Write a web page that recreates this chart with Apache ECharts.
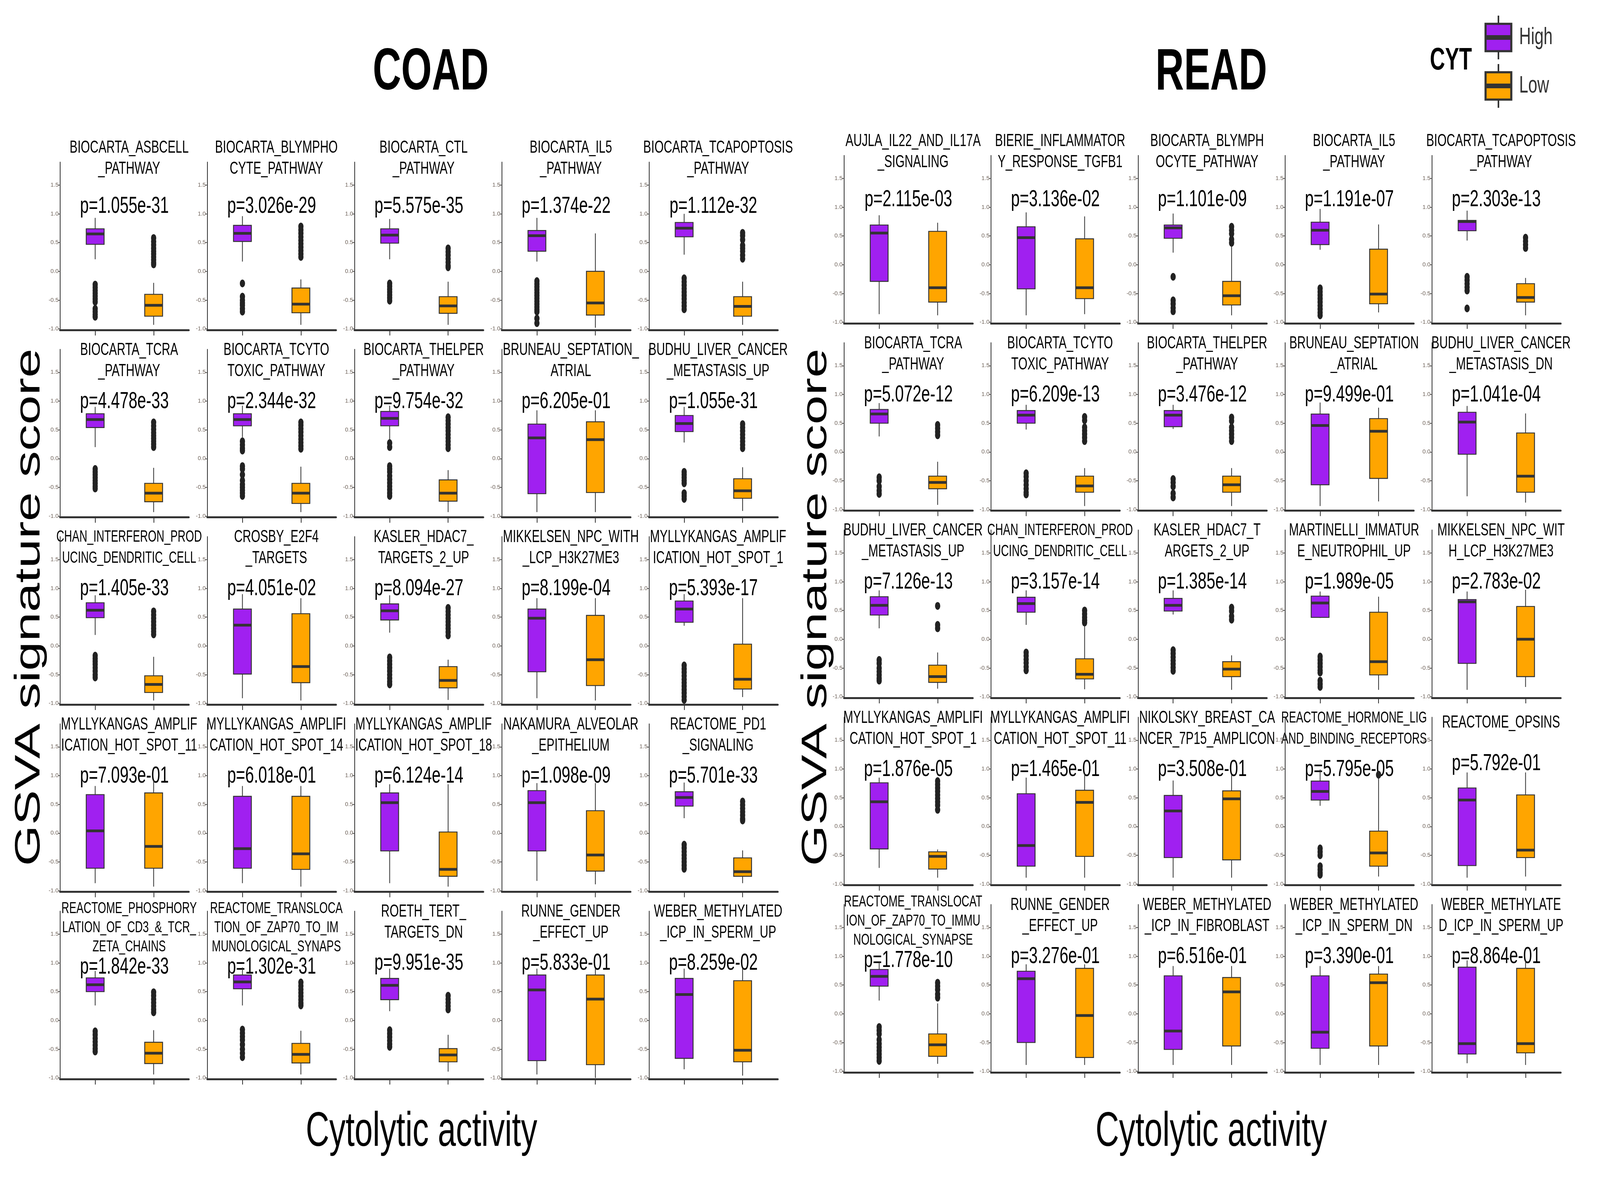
<!DOCTYPE html>
<html>
<head>
<meta charset="utf-8">
<script src="https://cdn.jsdelivr.net/npm/echarts@6/dist/echarts.min.js"></script>
<style>
html, body { margin: 0; padding: 0; background: #fff; overflow: hidden; }
#main { width: 100vw; height: 100vh; }
</style>
</head>
<body>
<div id="main"></div>
<script>
// groups on the x axis and the y ticks
var groups = ['High', 'Low'];
var yTicks = [-1, -0.5, 0, 0.5, 1, 1.5];

// ---- COAD ----
var coadNames = [
  'BIOCARTA_ASBCELL\n_PATHWAY', 'BIOCARTA_BLYMPHO\nCYTE_PATHWAY', 'BIOCARTA_CTL\n_PATHWAY', 'BIOCARTA_IL5\n_PATHWAY', 'BIOCARTA_TCAPOPTOSIS\n_PATHWAY',
  'BIOCARTA_TCRA\n_PATHWAY', 'BIOCARTA_TCYTO\nTOXIC_PATHWAY', 'BIOCARTA_THELPER\n_PATHWAY', 'BRUNEAU_SEPTATION_\nATRIAL', 'BUDHU_LIVER_CANCER\n_METASTASIS_UP',
  'CHAN_INTERFERON_PROD\nUCING_DENDRITIC_CELL', 'CROSBY_E2F4\n_TARGETS', 'KASLER_HDAC7_\nTARGETS_2_UP', 'MIKKELSEN_NPC_WITH\n_LCP_H3K27ME3', 'MYLLYKANGAS_AMPLIF\nICATION_HOT_SPOT_1',
  'MYLLYKANGAS_AMPLIF\nICATION_HOT_SPOT_11', 'MYLLYKANGAS_AMPLIFI\nCATION_HOT_SPOT_14', 'MYLLYKANGAS_AMPLIF\nICATION_HOT_SPOT_18', 'NAKAMURA_ALVEOLAR\n_EPITHELIUM', 'REACTOME_PD1\n_SIGNALING',
  'REACTOME_PHOSPHORY\nLATION_OF_CD3_&_TCR_\nZETA_CHAINS', 'REACTOME_TRANSLOCA\nTION_OF_ZAP70_TO_IM\nMUNOLOGICAL_SYNAPS', 'ROETH_TERT_\nTARGETS_DN', 'RUNNE_GENDER\n_EFFECT_UP', 'WEBER_METHYLATED\n_ICP_IN_SPERM_UP'
];
var coadP = [
  '1.055e-31', '3.026e-29', '5.575e-35', '1.374e-22', '1.112e-32',
  '4.478e-33', '2.344e-32', '9.754e-32', '6.205e-01', '1.055e-31',
  '1.405e-33', '4.051e-02', '8.094e-27', '8.199e-04', '5.393e-17',
  '7.093e-01', '6.018e-01', '6.124e-14', '1.098e-09', '5.701e-33',
  '1.842e-33', '1.302e-31', '9.951e-35', '5.833e-01', '8.259e-02'
];
// [lower whisker, Q1, median, Q3, upper whisker]
var coadHigh = [
  [0.21, 0.47, 0.65, 0.74, 0.93], [0.17, 0.52, 0.66, 0.80, 0.96], [0.21, 0.49, 0.63, 0.74, 0.91], [0.17, 0.35, 0.62, 0.71, 0.93], [0.29, 0.60, 0.75, 0.85, 1.00],
  [0.20, 0.54, 0.68, 0.78, 0.90], [0.37, 0.57, 0.68, 0.78, 0.92], [0.32, 0.57, 0.70, 0.82, 0.92], [-0.93, -0.61, 0.36, 0.60, 0.84], [0.28, 0.47, 0.61, 0.75, 0.90],
  [0.19, 0.49, 0.62, 0.75, 0.88], [-0.91, -0.49, 0.36, 0.64, 0.90], [0.23, 0.45, 0.61, 0.73, 0.88], [-0.91, -0.45, 0.48, 0.64, 0.83], [0.35, 0.41, 0.64, 0.78, 0.90],
  [-0.87, -0.61, 0.04, 0.67, 0.82], [-0.87, -0.61, -0.27, 0.64, 0.82], [-0.87, -0.31, 0.53, 0.70, 0.85], [-0.83, -0.31, 0.53, 0.74, 0.87], [0.26, 0.47, 0.62, 0.72, 0.88],
  [0.26, 0.50, 0.62, 0.74, 0.86], [0.26, 0.55, 0.67, 0.79, 0.92], [0.16, 0.36, 0.61, 0.73, 0.90], [-0.94, -0.70, 0.53, 0.79, 0.90], [-0.85, -0.66, 0.45, 0.73, 0.90]
];
var coadLow = [
  [-0.93, -0.78, -0.59, -0.40, -0.20], [-0.93, -0.72, -0.57, -0.29, -0.14], [-0.93, -0.73, -0.60, -0.44, -0.18], [-0.98, -0.76, -0.55, 0.00, 0.66], [-0.93, -0.78, -0.61, -0.44, -0.18],
  [-0.93, -0.75, -0.60, -0.43, -0.16], [-0.93, -0.78, -0.60, -0.43, -0.14], [-0.93, -0.74, -0.60, -0.37, -0.20], [-0.93, -0.59, 0.33, 0.64, 0.84], [-0.91, -0.69, -0.56, -0.35, -0.15],
  [-0.95, -0.81, -0.67, -0.52, -0.19], [-0.95, -0.64, -0.36, 0.56, 0.83], [-0.94, -0.73, -0.60, -0.36, -0.24], [-0.95, -0.69, -0.24, 0.53, 0.83], [-0.89, -0.75, -0.58, 0.03, 0.83],
  [-0.93, -0.61, -0.23, 0.70, 0.92], [-0.93, -0.63, -0.36, 0.64, 0.82], [-0.93, -0.75, -0.63, 0.02, 0.85], [-0.89, -0.66, -0.38, 0.39, 0.87], [-0.87, -0.75, -0.67, -0.43, -0.30],
  [-0.94, -0.75, -0.57, -0.38, -0.17], [-0.94, -0.74, -0.59, -0.40, -0.18], [-0.89, -0.72, -0.60, -0.49, -0.25], [-1.00, -0.77, 0.37, 0.79, 0.90], [-0.96, -0.72, -0.52, 0.69, 0.90]
];
var coadHighOut = [
  [-0.23, -0.28, -0.33, -0.38, -0.43, -0.48, -0.53, -0.65, -0.70, -0.75, -0.79],
  [-0.21, -0.44, -0.50, -0.55, -0.59, -0.65, -0.70],
  [-0.21, -0.26, -0.31, -0.36, -0.41, -0.46, -0.51],
  [-0.17, -0.22, -0.27, -0.32, -0.37, -0.42, -0.47, -0.52, -0.57, -0.62, -0.67, -0.70, -0.82, -0.90],
  [-0.12, -0.18, -0.24, -0.30, -0.36, -0.42, -0.48, -0.54, -0.60, -0.66],
  [-0.18, -0.23, -0.28, -0.33, -0.38, -0.43, -0.48, -0.52],
  [0.30, 0.24, 0.18, 0.14, -0.13, -0.18, -0.28, -0.38, -0.45, -0.50, -0.55, -0.60, -0.65],
  [0.27, 0.20, -0.13, -0.18, -0.23, -0.30, -0.36, -0.42, -0.48, -0.54, -0.60, -0.65],
  [],
  [-0.23, -0.28, -0.33, -0.38, -0.43, -0.60, -0.65, -0.70],
  [-0.17, -0.22, -0.27, -0.32, -0.38, -0.44, -0.50, -0.55],
  [],
  [-0.20, -0.26, -0.32, -0.38, -0.44, -0.50, -0.56, -0.62, -0.67],
  [],
  [-0.34, -0.40, -0.46, -0.52, -0.58, -0.64, -0.70, -0.76, -0.82, -0.88, -0.94],
  [], [], [], [],
  [-0.20, -0.26, -0.32, -0.38, -0.44, -0.50, -0.56, -0.62],
  [-0.19, -0.25, -0.31, -0.37, -0.43, -0.49, -0.54],
  [-0.16, -0.22, -0.28, -0.34, -0.42, -0.50, -0.57, -0.64],
  [-0.17, -0.23, -0.29, -0.35, -0.41, -0.46],
  [], []
];
var coadLowOut = [
  [0.58, 0.52, 0.46, 0.40, 0.35, 0.30, 0.25, 0.20, 0.15, 0.12],
  [0.78, 0.72, 0.66, 0.60, 0.54, 0.48, 0.42, 0.36, 0.30, 0.25],
  [0.40, 0.34, 0.28, 0.22, 0.16, 0.10, 0.07],
  [],
  [0.67, 0.62, 0.55, 0.45, 0.40, 0.35, 0.28, 0.22],
  [0.63, 0.57, 0.51, 0.45, 0.40, 0.35, 0.30, 0.25, 0.20],
  [0.63, 0.58, 0.52, 0.46, 0.40, 0.34, 0.28, 0.22, 0.17],
  [0.72, 0.66, 0.60, 0.54, 0.48, 0.42, 0.36, 0.30, 0.24, 0.18],
  [],
  [0.60, 0.54, 0.48, 0.42, 0.36, 0.30, 0.24, 0.18],
  [0.60, 0.54, 0.48, 0.42, 0.36, 0.30, 0.25, 0.20],
  [],
  [0.66, 0.60, 0.54, 0.48, 0.42, 0.36, 0.30, 0.24, 0.18],
  [], [], [], [], [], [],
  [0.55, 0.49, 0.43, 0.37, 0.31, 0.25, 0.22],
  [0.49, 0.43, 0.37, 0.31, 0.25, 0.19, 0.14],
  [0.66, 0.60, 0.54, 0.48, 0.42, 0.36, 0.30, 0.26],
  [0.43, 0.37, 0.31, 0.25, 0.19],
  [], []
];

// ---- READ ----
var readNames = [
  'AUJLA_IL22_AND_IL17A\n_SIGNALING', 'BIERIE_INFLAMMATOR\nY_RESPONSE_TGFB1', 'BIOCARTA_BLYMPH\nOCYTE_PATHWAY', 'BIOCARTA_IL5\n_PATHWAY', 'BIOCARTA_TCAPOPTOSIS\n_PATHWAY',
  'BIOCARTA_TCRA\n_PATHWAY', 'BIOCARTA_TCYTO\nTOXIC_PATHWAY', 'BIOCARTA_THELPER\n_PATHWAY', 'BRUNEAU_SEPTATION\n_ATRIAL', 'BUDHU_LIVER_CANCER\n_METASTASIS_DN',
  'BUDHU_LIVER_CANCER\n_METASTASIS_UP', 'CHAN_INTERFERON_PROD\nUCING_DENDRITIC_CELL', 'KASLER_HDAC7_T\nARGETS_2_UP', 'MARTINELLI_IMMATUR\nE_NEUTROPHIL_UP', 'MIKKELSEN_NPC_WIT\nH_LCP_H3K27ME3',
  'MYLLYKANGAS_AMPLIFI\nCATION_HOT_SPOT_1', 'MYLLYKANGAS_AMPLIFI\nCATION_HOT_SPOT_11', 'NIKOLSKY_BREAST_CA\nNCER_7P15_AMPLICON', 'REACTOME_HORMONE_LIG\nAND_BINDING_RECEPTORS', 'REACTOME_OPSINS',
  'REACTOME_TRANSLOCAT\nION_OF_ZAP70_TO_IMMU\nNOLOGICAL_SYNAPSE', 'RUNNE_GENDER\n_EFFECT_UP', 'WEBER_METHYLATED\n_ICP_IN_FIBROBLAST', 'WEBER_METHYLATED\n_ICP_IN_SPERM_DN', 'WEBER_METHYLATE\nD_ICP_IN_SPERM_UP'
];
var readP = [
  '2.115e-03', '3.136e-02', '1.101e-09', '1.191e-07', '2.303e-13',
  '5.072e-12', '6.209e-13', '3.476e-12', '9.499e-01', '1.041e-04',
  '7.126e-13', '3.157e-14', '1.385e-14', '1.989e-05', '2.783e-02',
  '1.876e-05', '1.465e-01', '3.508e-01', '5.795e-05', '5.792e-01',
  '1.778e-10', '3.276e-01', '6.516e-01', '3.390e-01', '8.864e-01'
];
var readHigh = [
  [-0.86, -0.29, 0.55, 0.69, 0.86], [-0.88, -0.42, 0.47, 0.66, 0.91], [0.21, 0.46, 0.64, 0.69, 0.89], [0.26, 0.35, 0.60, 0.74, 0.97], [0.42, 0.59, 0.75, 0.77, 0.94],
  [0.27, 0.50, 0.66, 0.74, 0.85], [0.39, 0.50, 0.64, 0.72, 0.82], [0.40, 0.44, 0.64, 0.72, 0.82], [-0.94, -0.57, 0.46, 0.66, 0.86], [-0.77, -0.04, 0.52, 0.69, 0.80],
  [0.19, 0.42, 0.59, 0.74, 0.85], [0.25, 0.47, 0.62, 0.73, 0.85], [0.43, 0.49, 0.59, 0.71, 0.85], [0.37, 0.38, 0.63, 0.75, 0.83], [-0.88, -0.42, 0.65, 0.69, 0.83],
  [-0.72, -0.39, 0.43, 0.76, 0.85], [-0.89, -0.69, -0.33, 0.57, 0.85], [-0.89, -0.54, 0.27, 0.54, 0.80], [0.36, 0.46, 0.61, 0.79, 0.99], [-0.89, -0.68, 0.46, 0.67, 0.94],
  [0.23, 0.48, 0.65, 0.77, 0.90], [-0.89, -0.50, 0.61, 0.74, 0.86], [-0.89, -0.62, -0.30, 0.66, 0.83], [-0.89, -0.60, -0.32, 0.66, 0.83], [-0.86, -0.70, -0.52, 0.81, 0.93]
];
var readLow = [
  [-0.88, -0.65, -0.40, 0.58, 0.73], [-0.86, -0.59, -0.40, 0.45, 0.84], [-0.88, -0.70, -0.54, -0.29, 0.34], [-0.83, -0.68, -0.51, 0.27, 0.70], [-0.88, -0.65, -0.57, -0.33, -0.23],
  [-0.92, -0.64, -0.53, -0.42, -0.17], [-0.94, -0.70, -0.59, -0.42, -0.28], [-0.94, -0.70, -0.57, -0.42, -0.28], [-0.86, -0.46, 0.36, 0.58, 0.77], [-0.88, -0.70, -0.42, 0.33, 0.67],
  [-0.86, -0.75, -0.65, -0.45, -0.23], [-0.87, -0.69, -0.61, -0.34, 0.25], [-0.88, -0.65, -0.52, -0.39, -0.28], [-0.88, -0.62, -0.39, 0.47, 0.74], [-0.83, -0.65, 0.00, 0.57, 0.86],
  [-0.89, -0.74, -0.52, -0.44, -0.40], [-0.89, -0.52, 0.42, 0.63, 0.92], [-0.89, -0.58, 0.48, 0.62, 0.90], [-0.87, -0.69, -0.46, -0.08, 0.86], [-0.87, -0.54, -0.41, 0.55, 0.94],
  [-0.87, -0.74, -0.54, -0.35, 0.18], [-0.89, -0.76, -0.03, 0.79, 0.86], [-0.89, -0.56, 0.38, 0.63, 0.83], [-0.89, -0.56, 0.54, 0.69, 0.83], [-0.89, -0.68, -0.52, 0.79, 0.93]
];
var readHighOut = [
  [], [],
  [-0.21, -0.62, -0.68, -0.75, -0.81],
  [-0.41, -0.47, -0.53, -0.59, -0.65, -0.71, -0.77, -0.83, -0.88],
  [-0.21, -0.27, -0.33, -0.39, -0.45, -0.76],
  [-0.44, -0.50, -0.60, -0.67, -0.73],
  [-0.37, -0.43, -0.50, -0.57, -0.64, -0.70, -0.74],
  [-0.47, -0.53, -0.60, -0.72, -0.79],
  [], [],
  [-0.36, -0.42, -0.50, -0.56, -0.62, -0.68, -0.72],
  [-0.23, -0.29, -0.35, -0.41, -0.48, -0.54],
  [-0.19, -0.25, -0.31, -0.37, -0.43, -0.49, -0.55],
  [-0.30, -0.36, -0.42, -0.48, -0.54, -0.58, -0.72, -0.78, -0.83],
  [], [], [], [],
  [-0.38, -0.44, -0.50, -0.69, -0.75, -0.81, -0.84],
  [],
  [-0.23, -0.29, -0.35, -0.45, -0.52, -0.58, -0.64, -0.70, -0.76, -0.82],
  [], [], [], []
];
var readLowOut = [
  [], [],
  [0.66, 0.60, 0.54, 0.44, 0.38],
  [],
  [0.47, 0.41, 0.35, 0.29],
  [0.47, 0.41, 0.35, 0.29],
  [0.61, 0.55, 0.43, 0.37, 0.31, 0.25, 0.19],
  [0.60, 0.54, 0.43, 0.37, 0.31, 0.25, 0.19],
  [], [],
  [0.58, 0.25, 0.19],
  [0.50, 0.44, 0.38, 0.33, 0.29],
  [0.55, 0.49, 0.40, 0.34],
  [], [],
  [0.79, 0.73, 0.67, 0.61, 0.55, 0.49, 0.43, 0.37, 0.29],
  [], [],
  [0.90],
  [],
  [0.54, 0.48, 0.42, 0.34, 0.28],
  [], [], [], []
];

var chart = echarts.init(document.getElementById('main'));
// layout is designed on a 6096 x 3024 canvas and scaled to the actual window
var SX = chart.getWidth() / 6096, SY = chart.getHeight() / 3024, SF = Math.min(SX, SY);
function X(v) { return v * SX; }
function Y(v) { return v * SY; }
function F(v) { return v * SF; }

var colors = ['#A020F0', '#FFA500'];
var FONT = '"Liberation Sans", Arial, sans-serif';
var Y_MIN = -1.02, Y_MAX = 1.9;
var GW = 490, GH = 430, BOX_HALF = 34;

var grids = [], xAxes = [], yAxes = [], series = [], graphics = [];
var measure = document.createElement('canvas').getContext('2d');

function renderBox(params, api) {
  var x = api.value(0);
  var lo = api.coord([x, api.value(1)]);
  var q1 = api.coord([x, api.value(2)]);
  var md = api.coord([x, api.value(3)]);
  var q3 = api.coord([x, api.value(4)]);
  var hi = api.coord([x, api.value(5)]);
  var cx = lo[0], hw = X(BOX_HALF);
  return {
    type: 'group',
    children: [
      { type: 'line', shape: { x1: cx, y1: hi[1], x2: cx, y2: q3[1] }, style: { stroke: '#333', lineWidth: F(3) } },
      { type: 'line', shape: { x1: cx, y1: q1[1], x2: cx, y2: lo[1] }, style: { stroke: '#333', lineWidth: F(3) } },
      { type: 'rect', shape: { x: cx - hw, y: q3[1], width: hw * 2, height: q1[1] - q3[1] },
        style: { fill: colors[api.value(6)], stroke: '#333', lineWidth: F(3.5) } },
      { type: 'line', shape: { x1: cx - hw, y1: md[1], x2: cx + hw, y2: md[1] }, style: { stroke: '#333', lineWidth: Y(7) } }
    ]
  };
}

// text is drawn at layout size and stretched with the window
function addText(text, x, y, size, opts) {
  opts = opts || {};
  var rot = opts.rotation || 0;
  graphics.push({
    type: 'text', x: X(x), y: Y(y), rotation: rot, silent: true,
    scaleX: rot ? SY : SX, scaleY: rot ? SX : SY,
    style: {
      text: text, fill: opts.color || '#000', fontFamily: FONT, fontSize: size,
      fontWeight: opts.bold ? 'bold' : 'normal',
      align: opts.align || 'center', verticalAlign: 'middle'
    }
  });
}

function addPanel(name, p, hi, lo, hiOut, loOut, left, bottom, row) {
  var gi = grids.length;
  grids.push({ left: X(left), top: Y(bottom - GH), width: X(GW), height: Y(GH) });
  xAxes.push({
    gridIndex: gi, type: 'value', min: 0.4, max: 2.6,
    axisLine: { onZero: false, lineStyle: { color: '#333', width: Y(5) } },
    axisTick: { customValues: [1, 2], length: Y(14), lineStyle: { color: '#333', width: X(3) } },
    axisLabel: { show: false }, splitLine: { show: false }
  });
  yAxes.push({
    gridIndex: gi, type: 'value', min: Y_MIN, max: Y_MAX,
    axisLine: { show: true, onZero: false, lineStyle: { color: '#333', width: X(3) } },
    axisTick: { show: true, customValues: yTicks, length: X(8), lineStyle: { color: '#555', width: Y(2) } },
    axisLabel: { customValues: yTicks, fontSize: F(22), color: '#6e6259', fontFamily: FONT, margin: X(6),
      formatter: function (v) { return Number(v).toFixed(1); } },
    splitLine: { show: false }
  });
  series.push({
    type: 'custom', xAxisIndex: gi, yAxisIndex: gi, renderItem: renderBox, silent: true,
    encode: { x: 0, y: [1, 2, 3, 4, 5] },
    data: [[1].concat(hi, [0]), [2].concat(lo, [1])]
  });
  var pts = hiOut.map(function (v) { return [1, v]; }).concat(loOut.map(function (v) { return [2, v]; }));
  series.push({
    type: 'scatter', xAxisIndex: gi, yAxisIndex: gi, silent: true, symbolSize: [X(20), Y(20)],
    itemStyle: { color: '#222', opacity: 1 }, data: pts
  });

  // title lines and p value (layout units)
  var lines = name.split('\n');
  var t15 = bottom - (1.5 - Y_MIN) / (Y_MAX - Y_MIN) * GH;
  var fs = 45;
  measure.font = fs + 'px ' + FONT;
  var maxW = 0;
  lines.forEach(function (l) { maxW = Math.max(maxW, measure.measureText(l).width); });
  if (maxW > 600) fs = fs * 555 / maxW;
  var firstY, gap, pY;
  if (lines.length >= 3) {
    fs = Math.min(fs, 41); firstY = t15 - 65; gap = 49; pY = t15 + 85;
  } else if (lines.length === 2) {
    firstY = t15 - 57 - (row === 0 ? 38 : 0); gap = 54; pY = t15 + 75 - (row === 0 ? 20 : 0);
  } else {
    firstY = t15 - 45; gap = 0; pY = t15 + 60;
  }
  lines.forEach(function (l, i) { addText(l, left + 263, firstY + i * gap, fs); });
  addText('p=' + p, left + 245, pY, 60);
}

for (var i = 0; i < 25; i++) {
  var r = Math.floor(i / 5), c = i % 5;
  addPanel(coadNames[i], coadP[i], coadHigh[i], coadLow[i], coadHighOut[i], coadLowOut[i], 229 + 561 * c, 845 + 479.5 * r, r);
  addPanel(readNames[i], readP[i], readHigh[i], readLow[i], readHighOut[i], readLowOut[i], 3216 + 560 * c, 828 + 479.5 * r, r);
}

// panel headings and axis names
addText('COAD', 1641, 188, 150, { bold: true });
addText('READ', 4615, 188, 150, { bold: true });
addText('GSVA signature score', 113, 1555, 135, { rotation: Math.PI / 2 });
addText('GSVA signature score', 3110, 1555, 135, { rotation: Math.PI / 2 });
addText('Cytolytic activity', 1606, 2900, 124);
addText('Cytolytic activity', 4615, 2900, 124);

// legend: CYT with boxplot keys
addText('CYT', 5528, 156, 80, { bold: true });
var keyY = [96, 220];
groups.forEach(function (g, k) {
  var cy = keyY[k];
  graphics.push({ type: 'line', silent: true, shape: { x1: X(5709), y1: Y(cy - 56), x2: X(5709), y2: Y(cy + 56) }, style: { stroke: '#333', lineWidth: X(6) } });
  graphics.push({ type: 'rect', silent: true, shape: { x: X(5660), y: Y(cy - 35), width: X(98), height: Y(70) }, style: { fill: colors[k], stroke: '#333', lineWidth: F(8) } });
  graphics.push({ type: 'line', silent: true, shape: { x1: X(5660), y1: Y(cy), x2: X(5758), y2: Y(cy) }, style: { stroke: '#333', lineWidth: Y(12) } });
  addText(g, 5788, cy, 62, { align: 'left', color: '#333' });
});

chart.setOption({
  backgroundColor: '#fff',
  animation: false,
  grid: grids,
  xAxis: xAxes,
  yAxis: yAxes,
  series: series,
  graphic: graphics
});
</script>
</body>
</html>
